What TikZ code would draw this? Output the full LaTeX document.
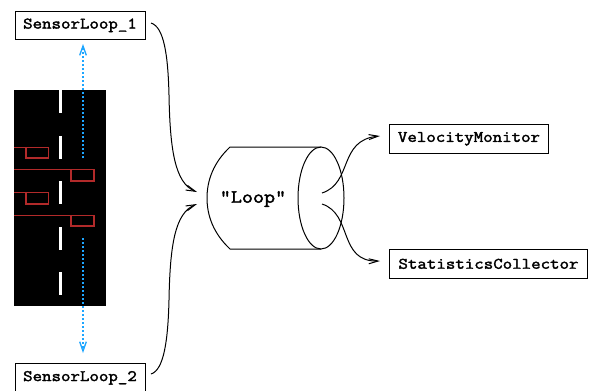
\documentclass[tikz,border=0pt]{standalone}
\usepackage{fontspec}
\setmonofont[FakeStretch=1.15,FakeBold=2.2]{Latin Modern Mono}
\usetikzlibrary{arrows.meta}
\definecolor{carred}{HTML}{B22A2A}
\definecolor{sky}{HTML}{1EA6FF}
\tikzset{
  x=0.75pt,y=-0.75pt,
  boxfont/.style={font=\ttfamily\fontsize{12pt}{13pt}\selectfont},
  labelbox/.style={draw,line width=0.75pt,inner sep=0pt,anchor=north west,boxfont,align=center},
  wire/.style={line width=0.75pt,-{Straight Barb[length=7pt,width=5.5pt,angle'=30]}},
  sensing/.style={draw=sky,line width=1pt,dash pattern=on 1.5pt off 1.5pt,-{Straight Barb[length=7pt,width=5pt]}},
  car/.style={draw=carred,line width=0.8pt},
  outline/.style={line width=0.75pt},
}
\begin{document}
\begin{tikzpicture}
\useasboundingbox (0,0) rectangle (591,390);
% boxes
\node[labelbox,minimum width=97.5pt,minimum height=21.5pt] (s1) at (14.5,10.5) {SensorLoop\_1};
\node[labelbox,minimum width=97.5pt,minimum height=21.5pt] (s2) at (14.5,363) {SensorLoop\_2};
\node[labelbox,minimum width=119.25pt,minimum height=21.5pt] (vm) at (389,124) {VelocityMonitor};
\node[labelbox,minimum width=148.5pt,minimum height=21.5pt] (sc) at (389,249) {StatisticsCollector};
% road
\fill[black] (14,90) rectangle (106,306);
\foreach \y in {90,136,181,227,272} \fill[white] (58.5,\y) rectangle (61.5,\y+23);
% cars
\draw[car] (14,147.3) -- (48.5,147.3) -- (48.5,158) -- (26,158) -- (26,147.3);
\draw[car] (14,169.7) -- (94,169.7) -- (94,181) -- (71,181) -- (71,169.7);
\draw[car] (14,192.5) -- (48.5,192.5) -- (48.5,204) -- (26,204) -- (26,192.5);
\draw[car] (14,215.3) -- (94,215.3) -- (94,226) -- (71,226) -- (71,215.3);
% sensing lines
\coordinate (r1) at (83,158);
\coordinate (t1) at (83,44);
\coordinate (r2) at (83,238);
\coordinate (t2) at (83,353);
\draw[sensing] (r1) -- (t1);
\draw[sensing] (r2) -- (t2);
% cylinder
\draw[outline] (321,198) ellipse [x radius=23, y radius=51];
\draw[outline] (321,147) -- (230,147) .. controls (213,163) and (207,181) .. (207,198) .. controls (207,215) and (213,233) .. (230,249) -- (321,249);
\node[font=\ttfamily\fontsize{14pt}{15pt}\selectfont,inner sep=0pt] (loop) at (253,199) {"Loop"};
% connectors
\coordinate (in1) at (197,192);
\coordinate (in2) at (197,204);
\coordinate (a1) at (151,23);
\coordinate (a2) at (151,374);
\coordinate (o1) at (322,193);
\coordinate (o2) at (322,204);
\coordinate (e1) at (380,136);
\coordinate (e2) at (380,261);
\draw[wire] (a1) .. controls (164,27) and (168,55) .. (169,95) .. controls (170,150) and (175,183) .. (in1);
\draw[wire] (a2) .. controls (164,370) and (168,340) .. (169,300) .. controls (170,245) and (175,213) .. (in2);
\draw[wire] (o1) .. controls (353,183) and (338,140) .. (e1);
\draw[wire] (o2) .. controls (353,214) and (338,262) .. (e2);
\end{tikzpicture}
\end{document}
